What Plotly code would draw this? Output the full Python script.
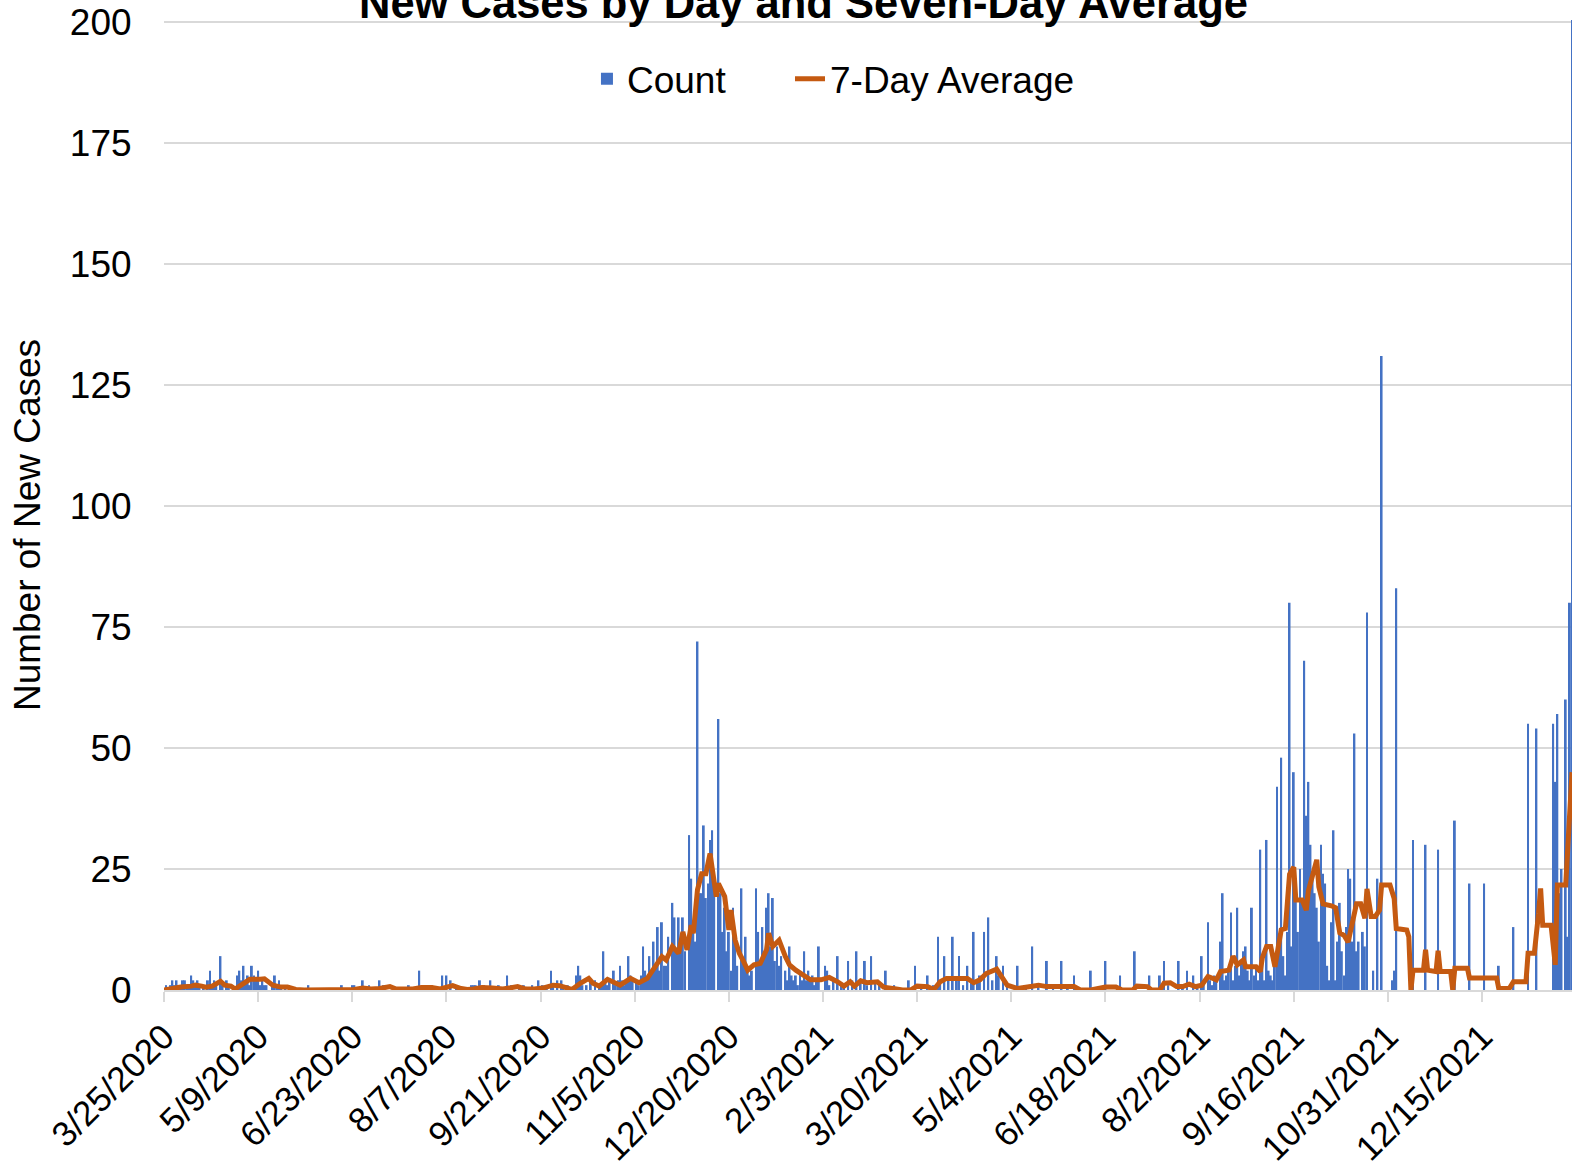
import pandas as pd
import plotly.graph_objects as go

start_date = "2020-03-25"

# Daily new case counts, consecutive days starting 3/25/2020
counts_a = [0,1,0,1,2,1,2,1,1,2,
            2,1,1,3,2,1,2,1,0,1,
            0,2,4,1,2,1,0,7,1,0,
            2,1,0,1,0,3,4,2,5,2,
            3,1,5,3,2,4,1,2,1,1,
            0,0,1,3,1,2,1,0,1,0,
            0,0,0,0,0,0,0,0,0,1,
            0,0,0,0,0,0,0,0,0,0,
            0,0,0,0,0,1,0,0,0,0,
            1,1,0,0,0,2,0,0,1,0]
counts_b = [0,0,0,2,0,1,0,0,0,0,
            0,0,0,0,0,0,0,1,0,0,
            0,0,4,0,0,0,1,0,1,0,
            0,0,0,3,0,3,0,2,0,0,
            1,0,0,0,0,0,0,1,1,1,
            0,2,0,1,0,0,2,0,0,0,
            1,0,0,0,3,0,1,0,0,0,
            1,0,1,0,0,0,1,0,0,2,
            0,1,0,1,0,4,1,0,2,0,
            2,1,0,1,0,0,0,3,5,3]
counts_c = [1,0,1,0,2,0,2,0,1,1,
            8,2,1,2,0,4,1,2,5,2,
            1,2,7,3,2,0,2,1,3,9,
            4,2,7,3,10,5,13,4,14,5,
            5,11,0,18,15,8,15,10,15,8,
            0,32,23,12,10,72,20,20,34,19,
            22,31,33,22,0,56,20,12,17,8,
            12,4,17,11,5,0,21,6,11,4,
            3,4,0,21,12,6,13,7,17,20,
            9,19,6,9,5,7,0,4,2,9]
counts_d = [3,2,3,1,4,2,8,2,4,2,
            3,1,2,9,0,0,5,4,1,0,
            2,0,7,0,1,1,0,6,0,2,
            0,8,0,2,0,6,1,0,7,0,
            2,0,1,0,0,4,0,0,0,1,
            0,0,0,0,0,0,2,0,0,5,
            0,0,1,0,0,3,0,0,1,0,
            11,2,0,7,0,2,0,11,0,2,
            7,0,1,0,5,0,2,12,0,2,
            3,0,12,0,15,0,2,0,7,3]
counts_e = [0,5,0,1,0,0,0,0,5,0,
            0,0,1,0,0,9,0,0,1,0,
            0,0,6,0,0,1,0,0,0,6,
            0,0,1,0,0,3,0,0,0,0,
            0,0,0,4,0,0,0,0,0,0,
            6,0,0,0,0,0,0,3,0,0,
            0,0,0,0,8,0,0,0,0,0,
            0,3,0,0,0,0,3,0,6,0,
            1,0,0,0,0,6,0,1,0,4,
            0,0,3,0,1,0,7,2,0,14]
counts_f = [2,1,3,2,0,10,20,2,3,4,
            16,2,5,17,3,6,8,9,4,2,
            17,3,5,2,29,6,2,31,4,3,
            2,5,42,9,48,7,3,12,80,9,
            45,20,12,25,18,68,36,43,30,24,
            20,17,10,30,24,22,5,2,14,33,
            2,10,18,8,3,13,25,23,10,53,
            8,10,0,12,9,78,0,0,4,0,
            23,0,131,0,0,0,0,2,4,83,
            0,0,0,0,0,0,0,31,0,0]
counts_g = [0,0,0,30,0,0,0,0,0,29,
            0,0,0,0,0,0,0,35,0,0,
            0,0,0,0,22,0,0,0,0,0,
            0,22,0,0,0,0,0,0,5,0,
            0,0,0,0,0,13,0,0,0,0,
            0,0,55,0,0,0,54,0,0,0,
            0,0,0,0,55,43,57,20,25,0,
            60,11,80,210]

# Seven-day average, read at days since 3/25/2020
avg_day = [0,3,8,13,15,18,20,23,27,29,32,34,36,39,41,46,48,52,56,59,63,67,78,86,91,95,99,
           103,108,111,116,119,123,128,132,138,142,145,148,152,157,162,169,173,177,181,186,189,193,
           195,199,203,205,208,212,215,218,223,227,231,235,238,240,243,246,248,250,252,253,255,257,
           259,261,263,264,265,268,270,271,273,275,277,279,282,285,288,289,291,294,297,299,302,306,309,
           314,318,322,325,328,330,333,336,341,344,350,353,357,360,365,368,371,374,384,387,390,393,398,
           400,403,408,414,418,422,435,438,443,450,455,458,463,465,470,472,476,478,481,484,487,490,493,
           496,499,503,505,509,511,513,516,517,522,524,525,527,529,531,533,534,536,538,540,541,544,546,
           547,549,551,552,554,558,560,562,564,566,568,570,572,574,575,577,579,581,582,586,588,589,594,
           595,596,597,602,603,604,608,609,610,615,616,617,623,624,637,638,643,645,651,652,655,657,658,
           659,663,665,666,670,671,673]
avg_value = [0,0.3,0.6,0.8,1.0,0.8,0.6,0.8,1.8,1.0,0.8,0.2,0.7,1.5,2.2,2.2,2.3,1.0,0.6,0.6,0.1,0,0,0,0.1,0.4,0.2,
             0.3,0.7,0.2,0.1,0.2,0.5,0.5,0.2,0.9,0.3,0.1,0.2,0.5,0.4,0.2,0.7,0.2,0.2,0.4,1.0,0.9,0.4,
             0.1,1.4,2.4,1.4,0.8,2.2,1.7,1.0,2.4,1.5,2.4,5.2,6.9,6.2,9.0,7.6,12.0,8.3,13.4,11.7,20.7,24.0,
             24.0,28.2,22.7,19.3,22.0,19.3,12.4,16.5,10.3,7.6,5.9,4.1,5.2,5.5,8.3,11.7,9.0,10.3,6.9,5.2,4.1,3.1,2.1,
             2.1,2.6,1.7,0.8,1.7,0.8,1.9,1.5,1.7,0.6,0.2,0,0,0.8,0.7,0.1,1.7,2.4,2.4,1.5,2.1,3.4,4.3,
             3.1,1.0,0.3,0.6,1.0,0.7,0.7,0,0,0.6,0.6,0,0,0.8,0.7,0,0,1.4,1.5,0.7,0.7,1.2,0.7,
             1.0,2.8,2.1,3.8,4.1,7.0,5.2,6.2,4.8,4.8,3.8,6.7,9.0,9.0,4.8,10.0,12.4,12.7,23.9,25.4,18.6,18.6,16.5,
             20.5,23.4,26.9,21.3,17.8,17.4,17.0,11.8,11.3,9.9,14.3,17.8,17.8,14.8,20.9,15.2,15.2,16.5,21.7,21.7,18.9,12.7,12.4,
             11.0,0,4.1,4.1,8.3,4.1,3.8,8.1,3.8,3.8,0,4.5,4.5,2.5,2.5,0.3,0.3,1.7,1.7,7.6,7.6,15.8,21.0,
             13.4,13.4,5.2,21.7,21.7,30.3,45.0]

tick_labels = ["3/25/2020", "5/9/2020", "6/23/2020", "8/7/2020", "9/21/2020", "11/5/2020",
               "12/20/2020", "2/3/2021", "3/20/2021", "5/4/2021", "6/18/2021", "8/2/2021",
               "9/16/2021", "10/31/2021", "12/15/2021"]
y_ticks = [0, 25, 50, 75, 100, 125, 150, 175, 200]

daily_counts = counts_a + counts_b + counts_c + counts_d + counts_e + counts_f + counts_g
dates = pd.date_range(start_date, periods=len(daily_counts), freq="D")
avg_dates = pd.to_datetime(start_date) + pd.to_timedelta(avg_day, unit="D")
tick_dates = pd.to_datetime(tick_labels, format="%m/%d/%Y")

FONT = "Liberation Sans, Arial, sans-serif"

fig = go.Figure()
fig.add_trace(go.Bar(
    x=dates, y=daily_counts, name="Count", legend="legend",
    marker=dict(color="#4472C4", line=dict(width=0)),
))
fig.add_trace(go.Scatter(
    x=avg_dates, y=avg_value, name="7-Day Average", mode="lines", legend="legend2",
    line=dict(color="#C55A11", width=5),
))

legend_font = dict(family=FONT, size=37, color="#000000")
fig.update_layout(
    width=1572, height=1170,
    margin=dict(l=164, r=0, t=20, b=180, autoexpand=False),
    paper_bgcolor="white", plot_bgcolor="white",
    font=dict(family=FONT, size=37, color="#000000"),
    legend=dict(orientation="h", x=0.3004, xanchor="left", y=0.939, yanchor="middle",
                font=legend_font, bgcolor="rgba(0,0,0,0)"),
    legend2=dict(orientation="h", x=0.4446, xanchor="left", y=0.939, yanchor="middle",
                 font=legend_font, bgcolor="rgba(0,0,0,0)"),
    bargap=0.1,
    showlegend=True,
    annotations=[
        dict(text="<b>New Cases by Day and Seven-Day Average</b>",
             xref="paper", yref="paper", x=0.4545, y=1.0175,
             xanchor="center", yanchor="middle", showarrow=False,
             font=dict(family=FONT, size=43.5, color="#000000")),
        dict(text="Number of New Cases",
             xref="paper", yref="paper", x=-0.0973, y=0.4793,
             xanchor="center", yanchor="middle", showarrow=False, textangle=-90,
             font=dict(family=FONT, size=37, color="#000000")),
    ],
)
fig.update_xaxes(
    type="date", automargin=False,
    range=[dates[0], dates[-1]],
    tickmode="array", tickvals=tick_dates, ticktext=tick_labels,
    tickangle=-45, tickfont=dict(family=FONT, size=35, color="#000000"),
    ticks="outside", ticklen=10, tickwidth=2, tickcolor="#D9D9D9",
    showline=True, linecolor="#D9D9D9", linewidth=2,
    showgrid=False, zeroline=False,
)
fig.update_yaxes(
    automargin=False,
    range=[0, 200.4], tickmode="array", tickvals=y_ticks,
    tickfont=dict(family=FONT, size=37, color="#000000"),
    ticklabeloverflow="allow",
    ticks="outside", ticklen=24, tickcolor="rgba(0,0,0,0)",
    showgrid=True, gridcolor="#D9D9D9", gridwidth=2,
    showline=False, zeroline=False,
)

fig.write_html("out.html", config={"displayModeBar": False},
               post_script="document.body.style.margin='0px';")
